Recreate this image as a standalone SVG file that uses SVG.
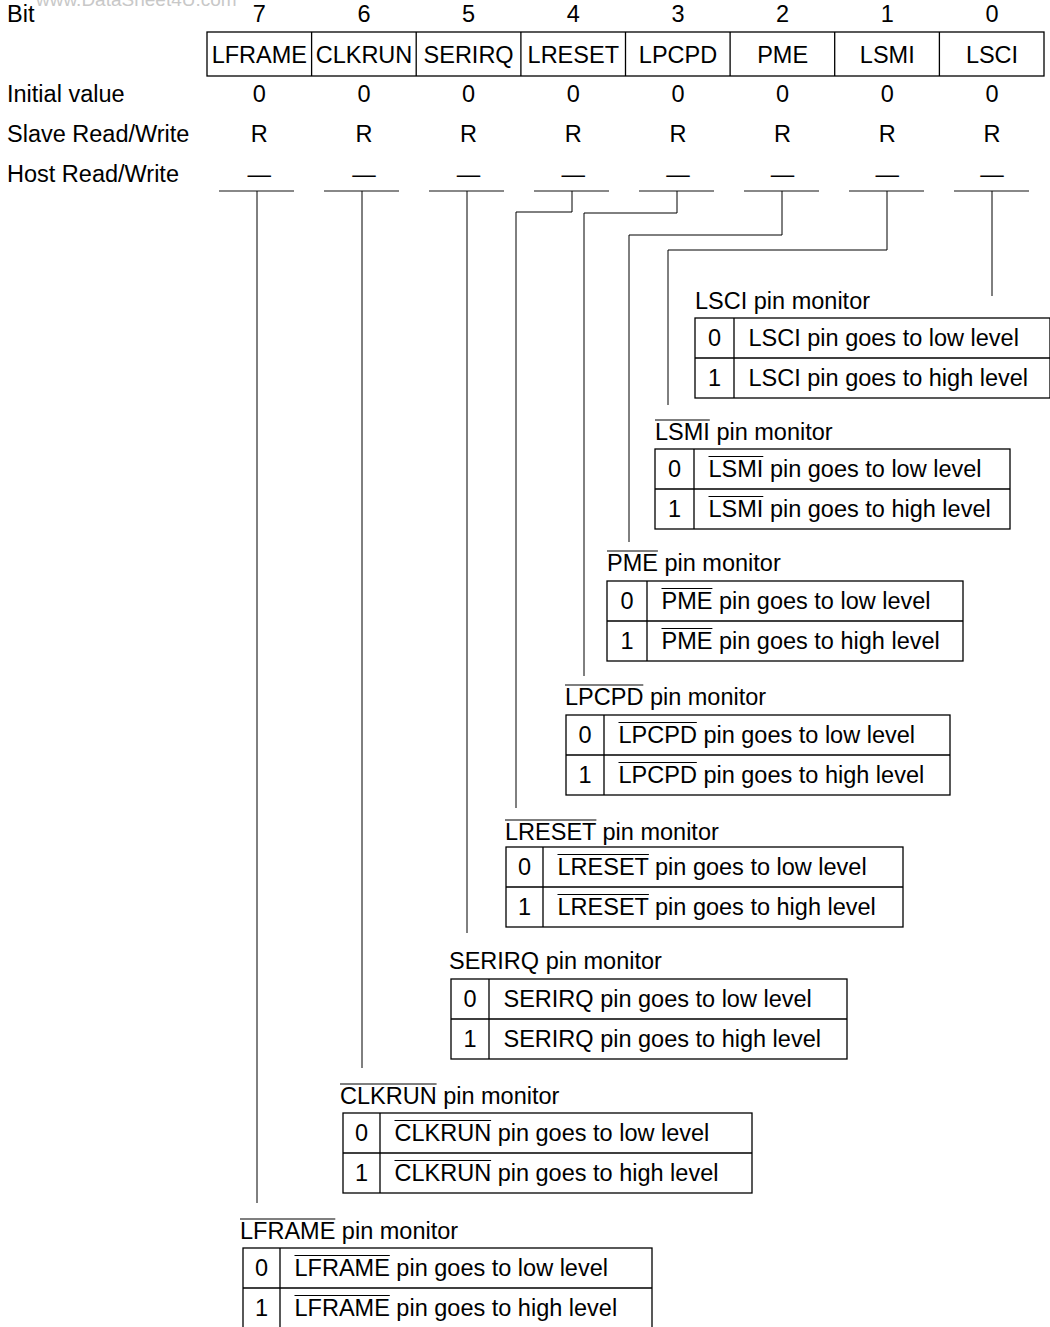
<svg xmlns="http://www.w3.org/2000/svg" width="1050" height="1327" viewBox="0 0 1050 1327">
<style>
.t{font-family:"Liberation Sans",Arial,Helvetica,sans-serif;font-size:23.5px;fill:#000}
.m{text-anchor:middle}
.wm{font-family:"Liberation Sans",Arial,sans-serif;font-size:19px;fill:#c8c8c8}
.b{fill:none;stroke:#000;stroke-width:1.3}
.c{fill:none;stroke:#000;stroke-width:1}
.u{stroke:#888;stroke-width:2}
.o{stroke:#000;stroke-width:1.2}
</style>
<rect width="1050" height="1327" fill="#fff"/>
<text class="wm" x="36" y="6">www.DataSheet4U.com</text>

<g id="row-labels">
<text class="t" x="7" y="22">Bit</text>
<text class="t" x="7" y="102">Initial value</text>
<text class="t" x="7" y="142">Slave Read/Write</text>
<text class="t" x="7" y="182">Host Read/Write</text>
</g>

<g id="register">
<rect class="b" x="207" y="32" width="837" height="44"/>
<path class="b" d="M311.6 32V76M416.2 32V76M520.9 32V76M625.5 32V76M730.1 32V76M834.7 32V76M939.4 32V76"/>
<g class="t m">
<text x="259.3" y="22">7</text><text x="364" y="22">6</text><text x="468.6" y="22">5</text><text x="573.3" y="22">4</text><text x="678" y="22">3</text><text x="782.6" y="22">2</text><text x="887.3" y="22">1</text><text x="992" y="22">0</text>
<text x="259.3" y="63">LFRAME</text><text x="364" y="63">CLKRUN</text><text x="468.6" y="63">SERIRQ</text><text x="573.3" y="63">LRESET</text><text x="678" y="63">LPCPD</text><text x="782.6" y="63">PME</text><text x="887.3" y="63">LSMI</text><text x="992" y="63">LSCI</text>
<text x="259.3" y="102">0</text><text x="364" y="102">0</text><text x="468.6" y="102">0</text><text x="573.3" y="102">0</text><text x="678" y="102">0</text><text x="782.6" y="102">0</text><text x="887.3" y="102">0</text><text x="992" y="102">0</text>
<text x="259.3" y="142">R</text><text x="364" y="142">R</text><text x="468.6" y="142">R</text><text x="573.3" y="142">R</text><text x="678" y="142">R</text><text x="782.6" y="142">R</text><text x="887.3" y="142">R</text><text x="992" y="142">R</text>
<text x="259.3" y="182">—</text><text x="364" y="182">—</text><text x="468.6" y="182">—</text><text x="573.3" y="182">—</text><text x="678" y="182">—</text><text x="782.6" y="182">—</text><text x="887.3" y="182">—</text><text x="992" y="182">—</text>
</g>
<path class="u" d="M219 191H294M324 191H399M429 191H504M534 191H609M639 191H714M744 191H819M849 191H924M954 191H1029"/>
</g>

<g id="connectors" class="c">
<path d="M257 191V1203"/>
<path d="M362 191V1068"/>
<path d="M467 191V933"/>
<path d="M572 191V212H516V808"/>
<path d="M677 191V213H584V676"/>
<path d="M782 191V235H629V542"/>
<path d="M887 191V250H668V405"/>
<path d="M992 191V296"/>
</g>

<g id="mon-lsci">
<text class="t" x="695" y="309">LSCI pin monitor</text>
<rect class="b" x="695" y="318" width="355" height="80"/>
<path class="b" d="M734 318V398M695 358H1050"/>
<text class="t m" x="714.5" y="346">0</text><text class="t m" x="714.5" y="386">1</text>
<text class="t" x="748.5" y="346">LSCI pin goes to low level</text>
<text class="t" x="748.5" y="386">LSCI pin goes to high level</text>
</g>

<g id="mon-lsmi">
<text class="t" x="655" y="440">LSMI pin monitor</text>
<path class="o" d="M655 420h54.8"/>
<rect class="b" x="655" y="449" width="355" height="80"/>
<path class="b" d="M694 449V529M655 489H1010"/>
<text class="t m" x="674.5" y="477">0</text><text class="t m" x="674.5" y="517">1</text>
<text class="t" x="708.5" y="477">LSMI pin goes to low level</text>
<text class="t" x="708.5" y="517">LSMI pin goes to high level</text>
<path class="o" d="M708.5 456.5h54.8M708.5 496.5h54.8"/>
</g>

<g id="mon-pme">
<text class="t" x="607" y="571">PME pin monitor</text>
<path class="o" d="M607 551h50.9"/>
<rect class="b" x="607" y="581" width="356" height="80"/>
<path class="b" d="M647 581V661M607 621H963"/>
<text class="t m" x="627" y="609">0</text><text class="t m" x="627" y="649">1</text>
<text class="t" x="661.5" y="609">PME pin goes to low level</text>
<text class="t" x="661.5" y="649">PME pin goes to high level</text>
<path class="o" d="M661.5 588.5h50.9M661.5 628.5h50.9"/>
</g>

<g id="mon-lpcpd">
<text class="t" x="565" y="705">LPCPD pin monitor</text>
<path class="o" d="M565 685h78.3"/>
<rect class="b" x="566" y="715" width="384" height="80"/>
<path class="b" d="M604 715V795M566 755H950"/>
<text class="t m" x="585" y="743">0</text><text class="t m" x="585" y="783">1</text>
<text class="t" x="618.5" y="743">LPCPD pin goes to low level</text>
<text class="t" x="618.5" y="783">LPCPD pin goes to high level</text>
<path class="o" d="M618.5 722.5h78.3M618.5 762.5h78.3"/>
</g>

<g id="mon-lreset">
<text class="t" x="505" y="840">LRESET pin monitor</text>
<path class="o" d="M505 820h91.4"/>
<rect class="b" x="506" y="847" width="397" height="80"/>
<path class="b" d="M543 847V927M506 887H903"/>
<text class="t m" x="524.5" y="875">0</text><text class="t m" x="524.5" y="915">1</text>
<text class="t" x="557.5" y="875">LRESET pin goes to low level</text>
<text class="t" x="557.5" y="915">LRESET pin goes to high level</text>
<path class="o" d="M557.5 854.5h91.4M557.5 894.5h91.4"/>
</g>

<g id="mon-serirq">
<text class="t" x="449" y="969">SERIRQ pin monitor</text>
<rect class="b" x="451" y="979" width="396" height="80"/>
<path class="b" d="M489 979V1059M451 1019H847"/>
<text class="t m" x="470" y="1007">0</text><text class="t m" x="470" y="1047">1</text>
<text class="t" x="503.5" y="1007">SERIRQ pin goes to low level</text>
<text class="t" x="503.5" y="1047">SERIRQ pin goes to high level</text>
</g>

<g id="mon-clkrun">
<text class="t" x="340" y="1104">CLKRUN pin monitor</text>
<path class="o" d="M340 1084h96.6"/>
<rect class="b" x="343" y="1113" width="409" height="80"/>
<path class="b" d="M380 1113V1193M343 1153H752"/>
<text class="t m" x="361.5" y="1141">0</text><text class="t m" x="361.5" y="1181">1</text>
<text class="t" x="394.5" y="1141">CLKRUN pin goes to low level</text>
<text class="t" x="394.5" y="1181">CLKRUN pin goes to high level</text>
<path class="o" d="M394.5 1120.5h96.6M394.5 1160.5h96.6"/>
</g>

<g id="mon-lframe">
<text class="t" x="240" y="1239">LFRAME pin monitor</text>
<path class="o" d="M240 1219h95.3"/>
<rect class="b" x="243" y="1248" width="409" height="84"/>
<path class="b" d="M280 1248V1332M243 1288H652"/>
<text class="t m" x="261.5" y="1276">0</text><text class="t m" x="261.5" y="1316">1</text>
<text class="t" x="294.5" y="1276">LFRAME pin goes to low level</text>
<text class="t" x="294.5" y="1316">LFRAME pin goes to high level</text>
<path class="o" d="M294.5 1255.5h95.3M294.5 1295.5h95.3"/>
</g>
</svg>
